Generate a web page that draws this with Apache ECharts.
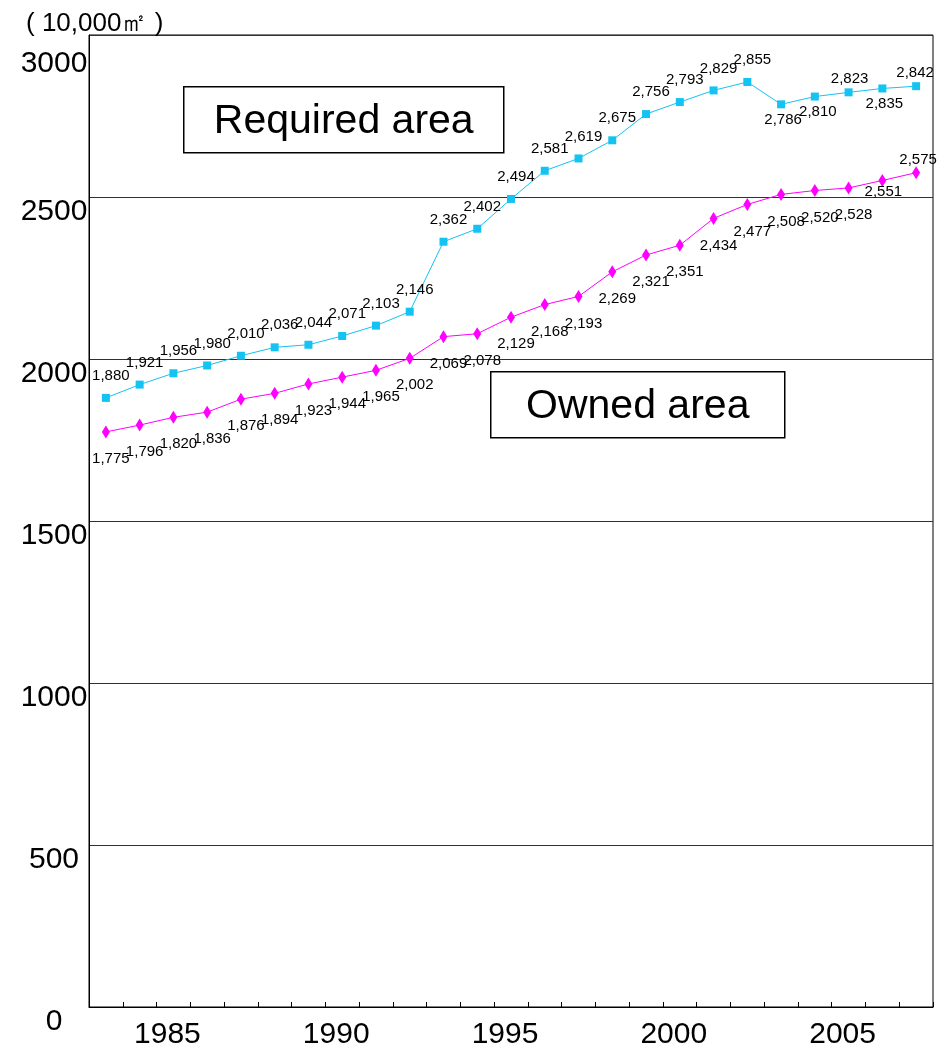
<!DOCTYPE html>
<html>
<head>
<meta charset="utf-8">
<script src="https://cdn.jsdelivr.net/npm/echarts@6/dist/echarts.min.js"></script>
<style>
html,body{margin:0;padding:0;background:#fff;}
#chart{width:951px;height:1050px;}
</style>
</head>
<body>
<div id="chart"></div>
<script>
const years = ['1983','1984','1985','1986','1987','1988','1989','1990','1991','1992','1993','1994','1995','1996','1997','1998','1999','2000','2001','2002','2003','2004','2005','2006','2007'];
const requiredArea = [1880,1921,1956,1980,2010,2036,2044,2071,2103,2146,2362,2402,2494,2581,2619,2675,2756,2793,2829,2855,2786,2810,2823,2835,2842];
const ownedArea = [1775,1796,1820,1836,1876,1894,1923,1944,1965,2002,2069,2078,2129,2168,2193,2269,2321,2351,2434,2477,2508,2520,2528,2551,2575];
const yMin = 0, yMax = 3000, yStep = 500;
const unitLabel = '( 10,000㎡ )';
const requiredName = 'Required area';
const ownedName = 'Owned area';

// label placement (style only)
const reqOffsets = requiredArea.map((v, i) => {
  const special = {20: [2, 16], 21: [3, 15], 22: [1, -13], 23: [2, 15], 24: [-1, -13]};
  return special[i] || [5, -22];
});
const ownOffsets = ownedArea.map((v, i) => {
  const special = {23: [1, 11], 24: [2, -13]};
  return special[i] || [5, 27];
});

const fmt = v => v.toLocaleString('en-US');
const FONT = '"Liberation Sans", Arial, sans-serif';

const chart = echarts.init(document.getElementById('chart'), null, {renderer: 'canvas'});
chart.setOption({
  backgroundColor: '#fff',
  animation: false,
  textStyle: {fontFamily: FONT, color: '#000'},
  title: {
    text: unitLabel,
    left: 21, top: 6,
    textStyle: {fontFamily: FONT, fontSize: 26, fontWeight: 'normal', color: '#000'}
  },
  grid: {left: 89, right: 18, top: 35, bottom: 43, show: true, borderColor: '#000', borderWidth: 1, backgroundColor: 'transparent'},
  xAxis: {
    type: 'category',
    data: years,
    boundaryGap: true,
    axisLine: {show: true, lineStyle: {color: '#000', width: 1}},
    axisTick: {show: true, inside: true, length: 5, interval: 0, lineStyle: {color: '#000'}},
    axisLabel: {
      interval: (idx, val) => Number(val) % 5 === 0,
      fontSize: 30, color: '#000', fontFamily: FONT, margin: 13,
      padding: [0, 12, 0, 0]
    },
    splitLine: {show: false}
  },
  yAxis: {
    type: 'value',
    min: yMin, max: yMax, interval: yStep,
    axisLine: {show: true, lineStyle: {color: '#000'}},
    axisTick: {show: false},
    axisLabel: {
      fontSize: 30, color: '#000', fontFamily: FONT,
      align: 'center', margin: 35, verticalAlign: 'top',
      formatter: v => v === yMax ? '{t|' + v + '}' : '{n|' + v + '}',
      rich: {
        n: {fontSize: 30, fontFamily: FONT, color: '#000', padding: [0, 0, 0, 0]},
        t: {fontSize: 30, fontFamily: FONT, color: '#000', padding: [14, 0, 0, 0]}
      }
    },
    splitLine: {show: true, lineStyle: {color: '#303030', width: 1}}
  },
  series: [
    {
      name: requiredName,
      type: 'line',
      data: requiredArea.map((v, i) => ({value: v, label: {offset: reqOffsets[i]}})),
      symbol: 'rect', symbolSize: 8,
      lineStyle: {color: '#14C3F2', width: 1},
      itemStyle: {color: '#14C3F2'},
      label: {show: true, position: 'inside', fontSize: 15, color: '#000', fontFamily: FONT,
        formatter: p => fmt(p.value)},
      z: 3
    },
    {
      name: ownedName,
      type: 'line',
      data: ownedArea.map((v, i) => ({value: v, label: {offset: ownOffsets[i]}})),
      symbol: 'diamond', symbolSize: [8, 13],
      lineStyle: {color: '#FF00FF', width: 1},
      itemStyle: {color: '#FF00FF'},
      label: {show: true, position: 'inside', fontSize: 15, color: '#000', fontFamily: FONT,
        formatter: p => fmt(p.value)},
      z: 3
    }
  ],
  graphic: [
    {
      type: 'group', left: 183, top: 86,
      children: [
        {type: 'rect', shape: {x: 0, y: 0, width: 320, height: 66}, style: {fill: '#fff', stroke: '#000', lineWidth: 1.5}},
        {type: 'text', x: 160, y: 35, style: {text: requiredName, font: '41px "Liberation Sans", Arial, sans-serif', fill: '#000', textAlign: 'center', textVerticalAlign: 'middle'}}
      ]
    },
    {
      type: 'group', left: 490, top: 371,
      children: [
        {type: 'rect', shape: {x: 0, y: 0, width: 294, height: 66}, style: {fill: '#fff', stroke: '#000', lineWidth: 1.5}},
        {type: 'text', x: 147, y: 35, style: {text: ownedName, font: '41px "Liberation Sans", Arial, sans-serif', fill: '#000', textAlign: 'center', textVerticalAlign: 'middle'}}
      ]
    }
  ]
});
</script>
</body>
</html>
